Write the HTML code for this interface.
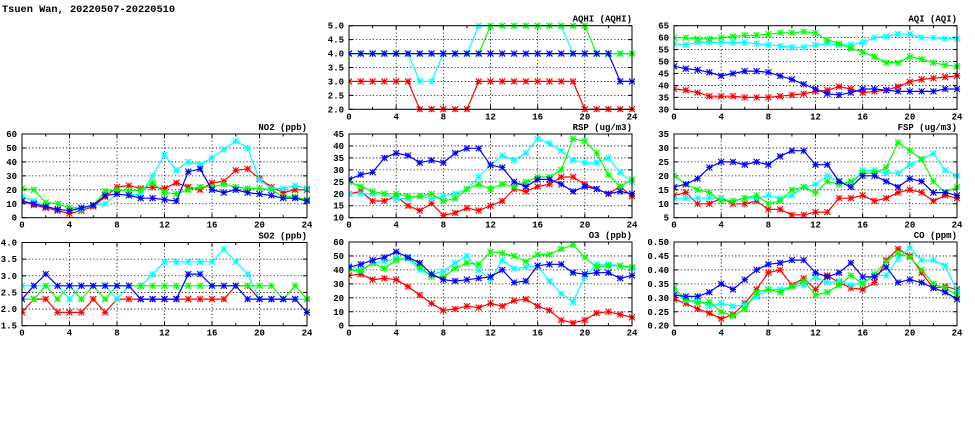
<!DOCTYPE html>
<html><head><meta charset="utf-8"><style>
html,body{margin:0;padding:0;background:#fff;width:975px;height:447px;overflow:hidden}
svg text{font-family:"Liberation Mono",monospace;font-weight:bold;fill:#000}
</style></head><body>
<svg id="s" width="975" height="447" xmlns="http://www.w3.org/2000/svg">
<text x="2" y="12" font-size="10.3">Tsuen Wan, 20220507-20220510</text>
</svg>
<script>
var S=document.getElementById('s'),NS='http://www.w3.org/2000/svg';
function el(t,a,txt){var e=document.createElementNS(NS,t);for(var k in a)e.setAttribute(k,a[k]);if(txt!=null)e.textContent=txt;S.appendChild(e);return e;}
var C={r:'#ff0000',g:'#00ff00',b:'#0000ff',c:'#00ffff'};
function panel(L,R,T,B,title,ymin,ymax,step,dec,series,order){
  var W=R-L,H=B-T;
  function X(h){return L+h*W/24;}
  function Y(v){return B-(v-ymin)/(ymax-ymin)*H;}
  for(var v=ymin;v<=ymax+1e-9;v+=step){
    var y=Y(v);
    if(v>ymin+1e-9&&v<ymax-1e-9)el('line',{x1:L,x2:R,y1:y,y2:y,stroke:'#000','stroke-width':0.8,'stroke-dasharray':'1.2,2.2'});
    el('line',{x1:L,x2:L+4,y1:y,y2:y,stroke:'#000','stroke-width':1});
    el('line',{x1:R-4,x2:R,y1:y,y2:y,stroke:'#000','stroke-width':1});
    el('text',{x:L-5,y:y+3,'font-size':9,'text-anchor':'end'},v.toFixed(dec));
  }
  for(var h=0;h<=24;h+=2){
    var x=X(h);
    if(h%4==0&&h>0&&h<24)el('line',{x1:x,x2:x,y1:T,y2:B,stroke:'#000','stroke-width':0.8,'stroke-dasharray':'1.2,2.2'});
    var len=h%4==0?4:2.5;
    el('line',{x1:x,x2:x,y1:B,y2:B-len,stroke:'#000','stroke-width':1});
    el('line',{x1:x,x2:x,y1:T,y2:T+len,stroke:'#000','stroke-width':1});
    if(h%4==0)el('text',{x:x,y:B+10,'font-size':9,'text-anchor':'middle'},String(h));
  }
  el('text',{x:R,y:T-4,'font-size':9,'text-anchor':'end'},title);
  var cid='c'+Math.round(L)+'_'+Math.round(T);
  var cp=el('clipPath',{id:cid});cp.appendChild((function(){var r=document.createElementNS(NS,'rect');r.setAttribute('x',L);r.setAttribute('y',T-3);r.setAttribute('width',W+3);r.setAttribute('height',H+6);return r;})());
  var g=el('g',{'clip-path':'url(#'+cid+')'});
  order.forEach(function(k){
    var d=series[k],col=C[k],pts=[];
    d.forEach(function(v,i){pts.push(X(i).toFixed(1)+','+Y(v).toFixed(1));});
    var pl=document.createElementNS(NS,'polyline');pl.setAttribute('points',pts.join(' '));pl.setAttribute('fill','none');pl.setAttribute('stroke',col);pl.setAttribute('stroke-width',1.2);g.appendChild(pl);
    d.forEach(function(v,i){
      var x=X(i),y=Y(v),s=3,p=document.createElementNS(NS,'path');
      p.setAttribute('d','M'+(x-s)+' '+(y-s)+'L'+(x+s)+' '+(y+s)+'M'+(x-s)+' '+(y+s)+'L'+(x+s)+' '+(y-s)+'M'+(x-s)+' '+y+'L'+(x+s)+' '+y+'M'+x+' '+(y-s)+'L'+x+' '+(y+s));
      p.setAttribute('stroke',col);p.setAttribute('stroke-width',1.1);p.setAttribute('fill','none');g.appendChild(p);
    });
  });
  el('rect',{x:L,y:T,width:W,height:H,fill:'none',stroke:'#000','stroke-width':1});
}
var O=['r','c','g','b'];
panel(349,632,25.7,109.3,'AQHI (AQHI)',2,5,0.5,1,{
 c:[4,4,4,4,4,4,3,3,4,4,4,5,5,5,5,5,5,5,5,4,4,4,4,4,4],
 g:[4,4,4,4,4,4,4,4,4,4,4,4,5,5,5,5,5,5,5,5,5,4,4,4,4],
 r:[3,3,3,3,3,3,2,2,2,2,2,3,3,3,3,3,3,3,3,3,2,2,2,2,2],
 b:[4,4,4,4,4,4,4,4,4,4,4,4,4,4,4,4,4,4,4,4,4,4,4,3,3]},O);
panel(674,957,25.7,109.3,'AQI (AQI)',30,65,5,0,{
 g:[60,60,59.5,59.5,60,60.5,61,61,61.5,62,62,62.5,62,59,57.5,55.5,54,52,49.5,49.5,52,51,49.5,48.5,48],
 c:[57.5,57,58,58,58,58,58,57.5,57,56.5,56,56,57,57.5,57,57,58,60,60.5,61.5,61.5,60,60,59.5,59.5],
 b:[48,47,46.5,45.5,44,45,46,46,45.5,44,42.5,40.5,38.5,36.5,36,37,38.5,38.5,38,37.5,37.5,37.5,37.5,38.5,38.5],
 r:[38.5,38,37,35.5,35.5,35.5,35,35,35,35.5,36,36.5,37.5,38,39.5,38.5,37,37.5,38,39.5,41.5,42.5,43,43.5,44]},O);
panel(22,307,134,217.7,'NO2 (ppb)',0,60,10,0,{
 c:[15,12,8,6,5,6,9,10,17,16,17,30,45,34,40,38,43,49,55,50,27,21,21,23,21],
 g:[21,20,11,10,7,7,9,19,20,19,20,25,18,17,20,22,22,24,22,21,21,20,15,15,13],
 r:[12,9,7,5,3,5,8,15,22,23,21,22,21,25,22,20,25,26,34,35,28,22,18,20,20],
 b:[12,10,8,6,5,7,9,16,17,16,14,14,13,12,33,35,20,18,20,18,17,16,14,14,12]},O);
panel(349,632,134,217.7,'RSP (ug/m3)',10,45,5,0,{
 b:[26,28,29,35,37,36,33,34,33,37,39,39,32,31,25,23,26,26,24,21,23,22,20,21,20],
 c:[20,20,20,20,18,18,19,18,19,20,22,27,32,36,34,37,43,41,38,34,33,33,35,29,25],
 g:[25,23,21,20,20,19,19,20,17,18,22,24,22,24,23,25,27,27,30,43,42,37,28,23,26],
 r:[20,21,17,17,19,15,13,16,11,12,14,13,15,17,22,21,23,24,27,27,24,22,20,23,19]},O);
panel(674,957,134,217.7,'FSP (ug/m3)',5,35,5,0,{
 b:[16,17,19,23,25,25,24,25,24,27,29,29,24,24,18,16,20,20,18,16,19,18,14,14,13],
 g:[20,17,15,14,11,11,12,13,10,11,15,16,14,18,17,18,21,21,23,32,29,26,18,14,16],
 c:[12,12,12,12,12,11,12,12,13,12,13,16,17,20,18,17,22,22,21,21,24,26,28,22,20],
 r:[13,14,10,10,12,10,10,11,8,8,6,6,7,7,12,12,13,11,12,14,15,14,11,13,12]},O);
panel(22,307,242.5,325.7,'SO2 (ppb)',1.5,4,0.5,1,{
 c:[2.7,2.7,2.7,2.7,2.3,2.7,2.7,2.7,2.3,2.7,2.7,3.05,3.42,3.42,3.42,3.42,3.42,3.8,3.42,3.05,2.3,2.3,2.3,2.3,2.3],
 g:[2.3,2.3,2.7,2.3,2.7,2.3,2.7,2.3,2.7,2.7,2.7,2.7,2.7,2.7,2.7,2.7,2.7,2.7,2.7,2.7,2.7,2.7,2.3,2.7,2.3],
 r:[1.9,2.3,2.3,1.9,1.9,1.9,2.3,1.9,2.3,2.3,2.3,2.3,2.3,2.3,2.3,2.3,2.3,2.3,2.7,2.7,2.3,2.3,2.3,2.3,2.3],
 b:[2.3,2.7,3.05,2.7,2.7,2.7,2.7,2.7,2.7,2.7,2.3,2.3,2.3,2.3,3.05,3.05,2.7,2.7,2.7,2.3,2.3,2.3,2.3,2.3,1.9]},O);
panel(349,632,242,325.7,'O3 (ppb)',0,60,10,0,{
 b:[42,44,47,49,53,49,45,37,33,32,33,34,35,40,31,32,43,44,44,38,37,38,38,34,36],
 c:[43,40,45,46,48,48,40,37,39,45,50,40,33,47,41,42,43,32,23,17,35,44,44,43,41],
 g:[40,39,45,41,47,49,42,35,35,41,45,44,53,52,50,46,51,51,55,58,49,42,43,43,42],
 r:[36,37,33,34,33,28,22,16,11,12,14,13,16,14,18,19,14,11,4,2,4,9,10,8,6]},O);
panel(674,957,242,325.7,'CO (ppm)',0.2,0.5,0.05,2,{
 b:[.31,.305,.305,.32,.35,.33,.365,.40,.42,.425,.435,.435,.39,.375,.39,.425,.375,.375,.41,.355,.365,.355,.335,.32,.295],
 c:[.325,.29,.29,.27,.28,.27,.275,.305,.33,.33,.34,.345,.375,.355,.36,.345,.355,.38,.38,.44,.48,.435,.435,.415,.325],
 g:[.335,.295,.28,.285,.25,.235,.26,.32,.33,.32,.34,.36,.31,.32,.345,.38,.35,.385,.43,.46,.445,.40,.35,.335,.31],
 r:[.295,.28,.26,.245,.225,.24,.28,.33,.39,.40,.345,.37,.33,.38,.355,.335,.33,.355,.435,.475,.45,.39,.335,.34,.33]},O);
</script>
</body></html>
